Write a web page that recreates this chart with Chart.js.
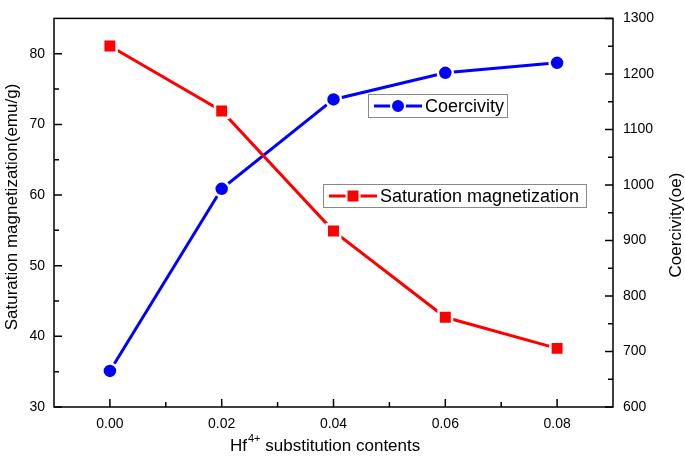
<!DOCTYPE html>
<html lang="en">
<head>
  <meta charset="UTF-8">
  <title>Hf substitution: saturation magnetization and coercivity</title>
  <script src="https://cdn.jsdelivr.net/npm/chart.js"></script>
  <style>
    body { margin: 0; padding: 0; background: white; }
    #wrap { width: 685px; height: 457px; }
  </style>
</head>
<body>
  <div id="wrap"><canvas id="chart"></canvas></div>

  <script>
    // Hf4+ content and measured values
    const contents = [0.00, 0.02, 0.04, 0.06, 0.08];
    const saturation = [81.1, 71.9, 54.9, 42.7, 38.3];
    const coercivity = [665, 993, 1154, 1202, 1220];

    const xTicks = [0.00, 0.02, 0.04, 0.06, 0.08];
    const leftTicks = [30, 40, 50, 60, 70, 80];
    const rightTicks = [600, 700, 800, 900, 1000, 1100, 1200, 1300];

    const FONT = "'Liberation Sans', Arial, sans-serif";

    // frame, inward major/minor ticks, titles and the two legend boxes
    const decor = {
      id: 'decor',
      afterDraw(chart) {
        const ctx = chart.ctx;
        const a = chart.chartArea;
        const sx = chart.scales.x, sy = chart.scales.y, sy1 = chart.scales.y1;
        ctx.save();
        ctx.strokeStyle = '#000';
        ctx.lineWidth = 1.5;
        ctx.strokeRect(a.left, a.top, a.right - a.left, a.bottom - a.top);

        ctx.beginPath();
        for (let i = 0; i <= 8; i++) {
          const v = i * 0.01;
          const px = sx.getPixelForValue(v);
          const len = i % 2 === 0 ? 8 : 5;
          ctx.moveTo(px, a.bottom);
          ctx.lineTo(px, a.bottom - len);
        }
        for (let v = 30; v < 85; v += 5) {
          const py = sy.getPixelForValue(v);
          const len = v % 10 === 0 ? 8 : 5;
          ctx.moveTo(a.left, py);
          ctx.lineTo(a.left + len, py);
        }
        for (let v = 600; v <= 1300; v += 50) {
          const py = sy1.getPixelForValue(v);
          const len = v % 100 === 0 ? 8 : 5;
          ctx.moveTo(a.right, py);
          ctx.lineTo(a.right - len, py);
        }
        ctx.stroke();

        // axis titles
        ctx.fillStyle = '#000';
        ctx.font = '17px ' + FONT;
        ctx.textBaseline = 'middle';
        ctx.textAlign = 'center';

        ctx.save();
        ctx.translate(12, 207);
        ctx.rotate(-Math.PI / 2);
        ctx.fillText('Saturation magnetization(emu/g)', 0, 0);
        ctx.restore();

        ctx.save();
        ctx.translate(676, 225);
        ctx.rotate(-Math.PI / 2);
        ctx.fillText('Coercivity(oe)', 0, 0);
        ctx.restore();

        // x title with superscript
        ctx.textAlign = 'left';
        let x = 230;
        const y = 446;
        ctx.font = '17px ' + FONT;
        ctx.fillText('Hf', x, y);
        x += ctx.measureText('Hf').width + 1;
        ctx.font = '11px ' + FONT;
        ctx.fillText('4+', x, y - 7);
        x += ctx.measureText('4+').width;
        ctx.font = '17px ' + FONT;
        ctx.fillText(' substitution contents', x, y);

        // legends
        function legendBox(bx, by, bw, bh, color, style, text) {
          ctx.fillStyle = '#fff';
          ctx.fillRect(bx, by, bw, bh);
          ctx.strokeStyle = '#8a8a8a';
          ctx.lineWidth = 1;
          ctx.strokeRect(bx + 0.5, by + 0.5, bw, bh);
          const cy = by + bh / 2 + 0.5;
          ctx.strokeStyle = color;
          ctx.lineWidth = 3;
          ctx.beginPath();
          ctx.moveTo(bx + 6, cy);
          ctx.lineTo(bx + 54, cy);
          ctx.stroke();
          ctx.fillStyle = color;
          ctx.strokeStyle = '#fff';
          ctx.lineWidth = 2;
          const mx = bx + 30;
          if (style === 'circle') {
            ctx.beginPath();
            ctx.arc(mx, cy, 7, 0, Math.PI * 2);
            ctx.fill();
            ctx.stroke();
          } else {
            ctx.fillRect(mx - 6.5, cy - 6.5, 13, 13);
            ctx.strokeRect(mx - 6.5, cy - 6.5, 13, 13);
          }
          ctx.fillStyle = '#000';
          ctx.font = '18px ' + FONT;
          ctx.textAlign = 'left';
          ctx.textBaseline = 'middle';
          ctx.fillText(text, bx + 57, cy + 1);
        }
        legendBox(368, 94, 139, 23, '#0000ff', 'circle', 'Coercivity');
        legendBox(323, 184, 263, 23, '#ff0000', 'rect', 'Saturation magnetization');

        ctx.restore();
      }
    };

    new Chart(document.getElementById('chart'), {
      type: 'line',
      data: {
        datasets: [
          {
            label: 'Saturation magnetization',
            data: contents.map((c, i) => ({ x: c, y: saturation[i] })),
            yAxisID: 'y',
            borderColor: '#ff0000',
            backgroundColor: '#ff0000',
            borderWidth: 3,
            pointStyle: 'rect',
            pointRadius: 9.5,
            pointBorderColor: '#ffffff',
            pointBorderWidth: 2.5,
            pointBackgroundColor: '#ff0000',
            tension: 0,
            fill: false
          },
          {
            label: 'Coercivity',
            data: contents.map((c, i) => ({ x: c, y: coercivity[i] })),
            yAxisID: 'y1',
            borderColor: '#0000ff',
            backgroundColor: '#0000ff',
            borderWidth: 3,
            pointStyle: 'circle',
            pointRadius: 7.5,
            pointBorderColor: '#ffffff',
            pointBorderWidth: 2.5,
            pointBackgroundColor: '#0000ff',
            tension: 0,
            fill: false
          }
        ]
      },
      options: {
        responsive: true,
        maintainAspectRatio: false,
        animation: false,
        layout: { padding: { top: 13, left: 0, right: 0, bottom: 0 } },
        plugins: {
          legend: { display: false },
          tooltip: { enabled: false }
        },
        scales: {
          x: {
            type: 'linear',
            min: -0.01,
            max: 0.09,
            grid: { display: false, drawTicks: false },
            border: { display: false },
            afterBuildTicks: s => { s.ticks = xTicks.map(v => ({ value: v })); },
            afterFit: s => { s.height = 50; },
            ticks: {
              padding: 9,
              color: '#000',
              font: { family: FONT, size: 14 },
              callback: v => v.toFixed(2)
            }
          },
          y: {
            position: 'left',
            min: 30,
            max: 85,
            grid: { display: false, drawTicks: false },
            border: { display: false },
            afterBuildTicks: s => { s.ticks = leftTicks.map(v => ({ value: v })); },
            afterFit: s => { s.width = 54; },
            ticks: {
              padding: 9,
              color: '#000',
              font: { family: FONT, size: 14 },
              callback: v => String(v)
            }
          },
          y1: {
            position: 'right',
            min: 600,
            max: 1300,
            grid: { display: false, drawTicks: false },
            border: { display: false },
            afterBuildTicks: s => { s.ticks = rightTicks.map(v => ({ value: v })); },
            afterFit: s => { s.width = 72; },
            ticks: {
              padding: 10,
              color: '#000',
              font: { family: FONT, size: 14 },
              callback: v => String(v)
            }
          }
        }
      },
      plugins: [decor]
    });
  </script>
</body>
</html>
